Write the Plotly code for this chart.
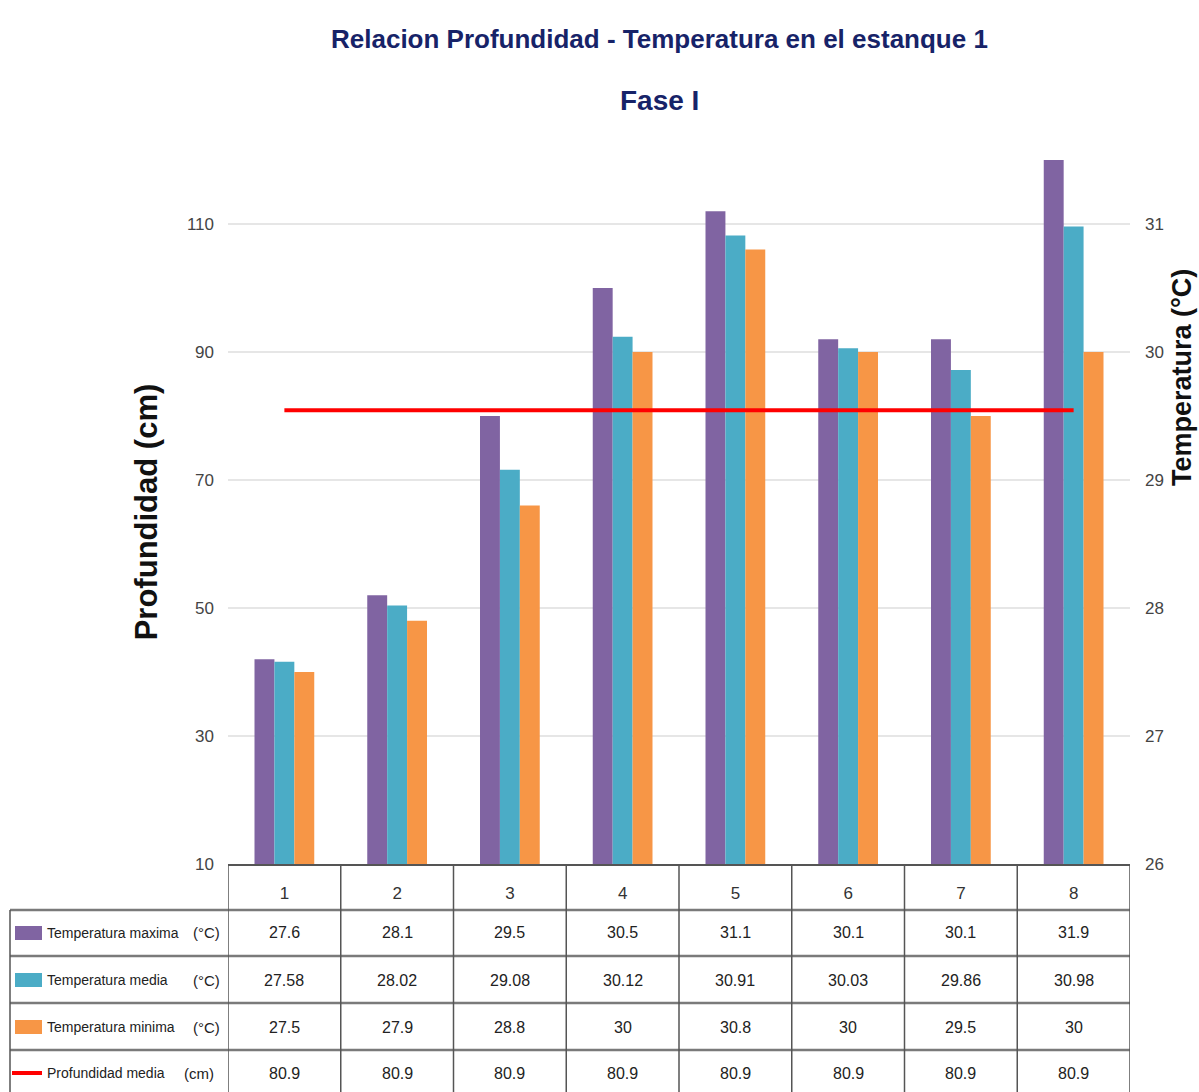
import plotly.graph_objects as go

categories = [1, 2, 3, 4, 5, 6, 7, 8]
temp_max = [27.6, 28.1, 29.5, 30.5, 31.1, 30.1, 30.1, 31.9]
temp_media = [27.58, 28.02, 29.08, 30.12, 30.91, 30.03, 29.86, 30.98]
temp_min = [27.5, 27.9, 28.8, 30, 30.8, 30, 29.5, 30]
prof_media = [80.9, 80.9, 80.9, 80.9, 80.9, 80.9, 80.9, 80.9]

series_names = ["Temperatura maxima", "Temperatura media", "Temperatura minima", "Profundidad media"]
series_units = ["(°C)", "(°C)", "(°C)", "(cm)"]
series_colors = ["#8064A2", "#4BACC6", "#F79646", "#FF0000"]
left_ticks = [10, 30, 50, 70, 90, 110]
right_ticks = [26, 27, 28, 29, 30, 31]

FONT = "Liberation Sans, Arial, sans-serif"
W, H = 1199, 1092
ML, MR, MT, MB = 228, 69, 160, 228
PW, PH = W - ML - MR, H - MT - MB


def px2x(px):
    return (px - ML) / PW


def py2y(py):
    return (H - MB - py) / PH


fig = go.Figure()
bar_series = [temp_max, temp_media, temp_min]
for name, vals, col in zip(series_names[:3], bar_series, series_colors[:3]):
    fig.add_trace(go.Bar(x=categories, y=vals, name=name, marker_color=col,
                         marker_line_width=0, yaxis="y"))
fig.add_trace(go.Scatter(x=categories, y=prof_media, name=series_names[3], mode="lines",
                         line=dict(color=series_colors[3], width=4), yaxis="y2"))

annotations = []
shapes = []
# title
annotations.append(dict(text="<b>Relacion Profundidad - Temperatura en el estanque 1</b>",
                        xref="paper", yref="paper", x=px2x(659), y=py2y(39),
                        xanchor="center", yanchor="middle", showarrow=False,
                        font=dict(family=FONT, size=26, color="#172368")))
annotations.append(dict(text="<b>Fase I</b>", xref="paper", yref="paper", x=px2x(659), y=py2y(100),
                        xanchor="center", yanchor="middle", showarrow=False,
                        font=dict(family=FONT, size=28, color="#172368")))
# right axis title
annotations.append(dict(text="<b>Temperatura (°C)</b>", xref="paper", yref="paper",
                        x=px2x(1182), y=py2y(378), textangle=-90,
                        xanchor="center", yanchor="middle", showarrow=False,
                        font=dict(family=FONT, size=27, color="#111")))

row_centers = [933, 980, 1027, 1073]
row_lines = [910, 956, 1003, 1050]
table_values = [temp_max, temp_media, temp_min, prof_media]
for r, (name, unit, col, vals) in enumerate(zip(series_names, series_units, series_colors, table_values)):
    yc = py2y(row_centers[r])
    annotations.append(dict(text=name, xref="paper", yref="paper", x=px2x(45), y=yc,
                            xanchor="left", yanchor="middle", showarrow=False,
                            font=dict(family=FONT, size=14, color="#222")))
    annotations.append(dict(text=unit, xref="paper", yref="paper", x=px2x(206) if r < 3 else px2x(199), y=yc,
                            xanchor="center", yanchor="middle", showarrow=False,
                            font=dict(family=FONT, size=15, color="#222")))
    for c, v in zip(categories, vals):
        annotations.append(dict(text=f"{v:g}", xref="x", yref="paper", x=c, y=yc,
                                xanchor="center", yanchor="middle", showarrow=False,
                                font=dict(family=FONT, size=16, color="#222")))
    if r < 3:
        shapes.append(dict(type="rect", xref="paper", yref="paper",
                           x0=px2x(15), x1=px2x(42), y0=yc - 7 / PH, y1=yc + 7 / PH,
                           fillcolor=col, line_width=0))
    else:
        shapes.append(dict(type="line", xref="paper", yref="paper",
                           x0=px2x(12), x1=px2x(42), y0=yc, y1=yc,
                           line=dict(color=col, width=4)))

for ly in row_lines:
    shapes.append(dict(type="line", xref="paper", yref="paper", x0=px2x(10), x1=1,
                       y0=py2y(ly), y1=py2y(ly), line=dict(color="#7a7a7a", width=2.5)))
shapes.append(dict(type="line", xref="paper", yref="paper", x0=px2x(10), x1=px2x(10),
                   y0=py2y(910), y1=py2y(1092), line=dict(color="#555", width=1.5)))
for b in [c - 0.5 for c in categories] + [categories[-1] + 0.5]:
    shapes.append(dict(type="line", xref="x", yref="paper", x0=b, x1=b,
                       y0=0, y1=py2y(1092), line=dict(color="#555", width=1.5)))

fig.update_layout(
    width=W, height=H, autosize=False,
    margin=dict(l=ML, r=MR, t=MT, b=MB),
    paper_bgcolor="white", plot_bgcolor="white",
    showlegend=False,
    barmode="group", bargap=0.47, bargroupgap=0,
    annotations=annotations, shapes=shapes,
    xaxis=dict(range=[0.5, 8.5], tickvals=categories, ticktext=[str(c) for c in categories],
               showgrid=False, zeroline=False, showline=True, linecolor="#555", linewidth=1.5,
               ticks="", ticklabelstandoff=13,
               tickfont=dict(family=FONT, size=17, color="#333")),
    yaxis=dict(side="right", range=[26, 31.5], tickvals=right_ticks,
               showgrid=True, gridcolor="#E6E6E6", gridwidth=2, zeroline=False, showline=False,
               ticks="", ticklabelstandoff=14,
               tickfont=dict(family=FONT, size=17, color="#444")),
    yaxis2=dict(side="left", overlaying="y", range=[10, 120], tickvals=left_ticks,
                showgrid=False, zeroline=False, showline=False,
                ticks="", ticklabelstandoff=13,
                tickfont=dict(family=FONT, size=17, color="#444"),
                title=dict(text="<b>Profundidad (cm)</b>", standoff=20,
                           font=dict(family=FONT, size=31, color="#111"))),
)

fig.write_html("out.html", config={"displayModeBar": False},
               post_script="document.body.style.margin='0';document.body.style.overflow='hidden';")
